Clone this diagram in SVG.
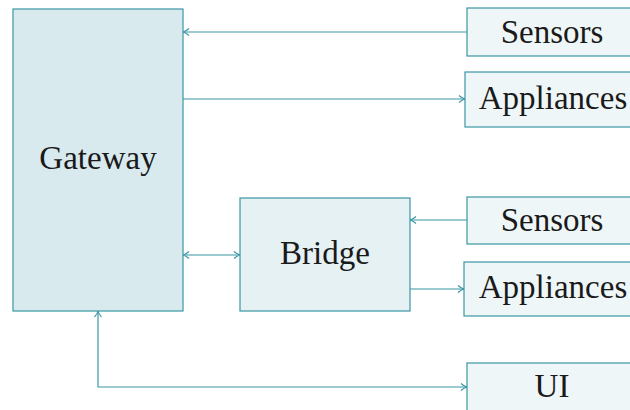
<svg xmlns="http://www.w3.org/2000/svg" width="630" height="410" viewBox="0 0 630 410">
  <style>
    .node rect { stroke: #3a96a4; stroke-width: 1.2; }
    .gw { fill: #d8eaee; }
    .br { fill: #e5f1f3; }
    .leaf { fill: #eff6f8; }
    text { font-family: "Liberation Serif", "Times New Roman", serif; font-size: 33px; fill: #1a1a1a; text-anchor: middle; dominant-baseline: central; }
    .edge { fill: none; stroke: #3a96a4; stroke-width: 1.2; }
  </style>
  <defs>
    <marker id="tip" viewBox="0 0 10 10" refX="9" refY="5" markerWidth="10" markerHeight="10" markerUnits="userSpaceOnUse" orient="auto-start-reverse">
      <path d="M3,1.5 Q6,4.3 9,5 Q6,5.7 3,8.5" fill="none" stroke="#3a96a4" stroke-width="1.1"/>
    </marker>
  </defs>

  <g id="connectors">
    <path class="edge" d="M467,32 H183" marker-end="url(#tip)"/>
    <path class="edge" d="M183,99 H465" marker-end="url(#tip)"/>
    <path class="edge" d="M183,255 H240" marker-start="url(#tip)" marker-end="url(#tip)"/>
    <path class="edge" d="M467,220 H410" marker-end="url(#tip)"/>
    <path class="edge" d="M410,289 H464" marker-end="url(#tip)"/>
    <path class="edge" d="M98,311 V387 H467" marker-start="url(#tip)" marker-end="url(#tip)"/>
  </g>

  <g id="gateway" class="node">
    <rect class="gw" x="13" y="9" width="170" height="302"/>
    <text x="98" y="158">Gateway</text>
  </g>
  <g id="bridge" class="node">
    <rect class="br" x="240" y="198" width="170" height="113"/>
    <text x="325" y="253">Bridge</text>
  </g>
  <g id="sensors-1" class="node">
    <rect class="leaf" x="467" y="8" width="180" height="48"/>
    <text x="552" y="32">Sensors</text>
  </g>
  <g id="appliances-1" class="node">
    <rect class="leaf" x="465" y="72" width="180" height="55"/>
    <text x="553" y="98">Appliances</text>
  </g>
  <g id="sensors-2" class="node">
    <rect class="leaf" x="467" y="197" width="180" height="47"/>
    <text x="552" y="220">Sensors</text>
  </g>
  <g id="appliances-2" class="node">
    <rect class="leaf" x="464" y="262" width="180" height="54"/>
    <text x="553" y="287">Appliances</text>
  </g>
  <g id="ui" class="node">
    <rect class="leaf" x="467" y="363" width="180" height="60"/>
    <text x="552" y="386">UI</text>
  </g>
</svg>
